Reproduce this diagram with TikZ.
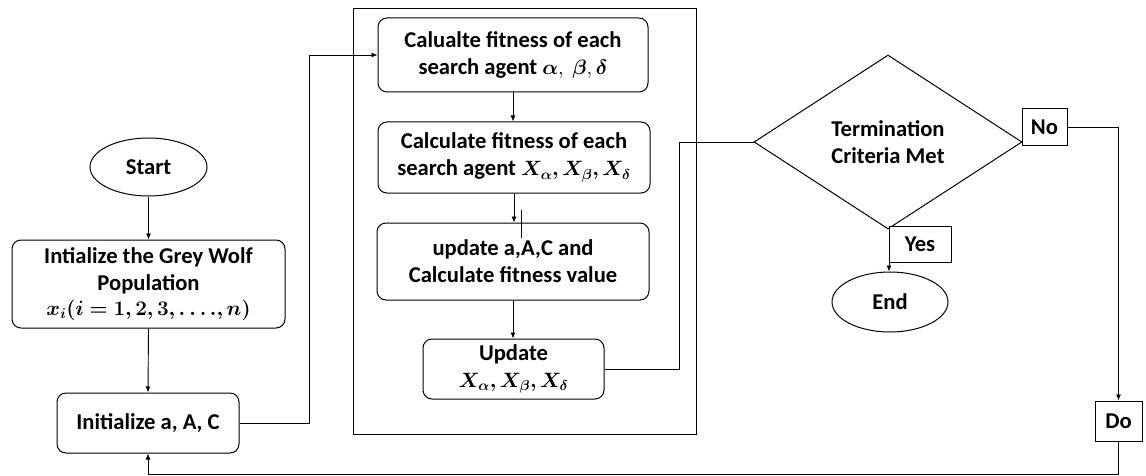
\documentclass[tikz,border=0pt]{standalone}
\usepackage{amsmath}
\usepackage{bm}
\usepackage[no-math]{fontspec}
\setmainfont{Carlito}
\usetikzlibrary{shapes.geometric,arrows.meta,calc}
\tikzset{
  txt/.style={font=\fontsize{22.6}{27}\selectfont\bfseries, align=center, text=black},
  rbox/.style={txt, draw, line width=1pt, rounded corners=9pt, fill=white, inner sep=1pt},
  tbox/.style={txt, draw, line width=1pt, fill=white, inner sep=1pt},
  oval/.style={txt, draw, ellipse, line width=1pt, fill=white, inner sep=0pt},
  conn/.style={line width=0.9pt},
  arr/.style={conn, -{Latex[length=6pt,width=5pt]}},
}
\begin{document}
\begin{tikzpicture}[x=1pt,y=-1pt]
\useasboundingbox (0,0) rectangle (1146,476);
% outer frame
\node[draw, line width=1pt, minimum width=343pt, minimum height=425pt, inner sep=0pt] (frame) at (524.5,221.5) {};
% left column
\node[oval, minimum width=117pt, minimum height=58pt] (start) at (148.5,167) {Start};
\node[rbox, minimum width=273pt, minimum height=88pt] (grey) at (148.5,284)
  {Intialize the Grey Wolf\\Population\\[-2pt]$\bm{x_i(i=1,2,3,\ldots.,n)}$};
\node[rbox, minimum width=182pt, minimum height=60pt] (init) at (148,423) {Initialize a, A, C};
% middle column
\node[rbox, minimum width=270pt, minimum height=74pt] (calc1) at (513,55)
  {Calualte fitness of each\\search agent $\bm{\alpha},\ \bm{\beta},\bm{\delta}$};
\node[rbox, minimum width=272pt, minimum height=71pt] (calc2) at (514,157.5)
  {Calculate fitness of each\\search agent $\bm{X_\alpha,X_\beta,X_\delta}$};
\node[rbox, minimum width=272pt, minimum height=77pt] (upd) at (513,261.5)
  {update a,A,C and\\Calculate fitness value};
\node[rbox, minimum width=181pt, minimum height=60pt] (update) at (513.5,369)
  {Update\\$\bm{X_\alpha,X_\beta,X_\delta}$};
% decision
\node[txt, draw, diamond, line width=1pt, aspect=1.54, minimum width=268pt, minimum height=174pt, inner sep=0pt] (dec) at (888,142)
  {Termination\\Criteria Met};
\node[oval, minimum width=116pt, minimum height=60pt] (end) at (890,302) {End};
\coordinate (ytop) at (889,229);
\draw[arr] (ytop) -- (ytop |- end.north);
\node[tbox, minimum width=62pt, minimum height=36pt] (yes) at (920,244) {Yes};
\node[tbox, minimum width=45pt, minimum height=37pt] (no) at (1044.5,127.5) {No};
\node[tbox, minimum width=47pt, minimum height=40pt] (do) at (1118.5,421) {Do};
% connectors
\draw[arr] (start.south) -- (grey.north);
\draw[arr] (grey.south) -- (init.north);
\coordinate (j1) at (309,0);
\draw[arr] (init.east) -| (j1 |- calc1.west) -- (calc1.west);
\draw[arr] (calc1.south) -- (calc1.south |- calc2.north);
\draw[arr] (calc2.south) -- (calc2.south |- upd.north);
\coordinate (tick) at (521,210);
\draw[conn] (tick) -- ++(0,28);
\draw[arr] (upd.south) -- (upd.south |- update.north);
\coordinate (j2) at (679,0);
\draw[conn] (update.east) -| (j2 |- dec.west) -- (dec.west);
\draw[arr] (no.east) -| (do.north);
\coordinate (fb) at (1118.5,474.5);
\draw[arr] (do.south) -- (fb) -| (init.south);
\end{tikzpicture}
\end{document}
